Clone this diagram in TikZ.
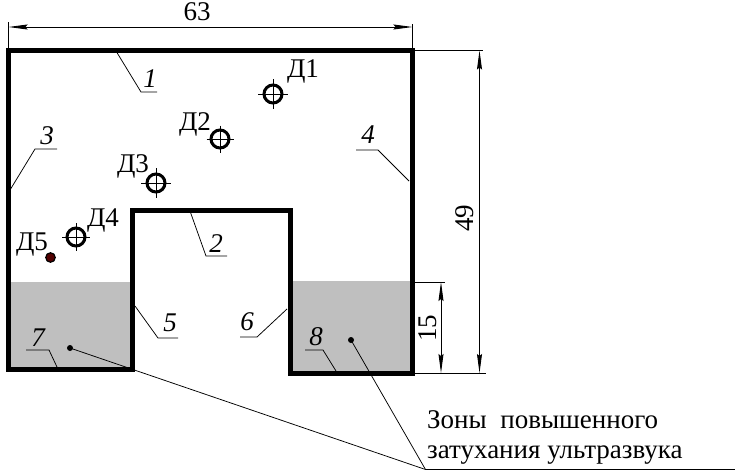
\documentclass[tikz,border=0pt]{standalone}
\usepackage{fontspec}
\setmainfont{Liberation Serif}
\usetikzlibrary{arrows.meta}
\tikzset{
  wall/.style={line width=5pt,line cap=butt,line join=miter},
  zone/.style={fill=black!25,draw=none},
  thin line/.style={line width=0.8pt},
  leader/.style={line width=0.75pt},
  dimtip/.style={Stealth[length=19pt,width=5pt,inset=2pt]},
  dimline/.style={line width=0.9pt,{Stealth[length=19pt,width=5pt,inset=2pt]}-{Stealth[length=19pt,width=5pt,inset=2pt]}},
  dimtext/.style={inner sep=0pt,font=\fontsize{27}{29}\selectfont},
  poslabel/.style={inner sep=0pt,font=\fontsize{27}{29}\selectfont\itshape},
  senslabel/.style={inner sep=0pt,font=\fontsize{27}{29}\selectfont},
  sensor/.style={circle,draw=black,line width=3pt,minimum size=18pt,inner sep=0pt},
  crosshair/.style={line width=0.8pt},
  tipdot/.style={circle,fill=black,minimum size=6pt,inner sep=0pt},
  note/.style={inner sep=0pt,anchor=base west,font=\fontsize{27}{29}\selectfont}
}
\begin{document}
\begin{tikzpicture}[x=1pt,y=-1pt]
\useasboundingbox (0,0) rectangle (735,474);
% zones
\fill[zone] (10.5,282) rectangle (130,367);
\fill[zone] (292.5,281) rectangle (410,371);
% outline
\draw[wall] (8,369) -- (8,50.5) -- (412.5,50.5) -- (412.5,373) -- (290,373) -- (290,210) -- (132,210) -- (132,369) -- cycle;
% named points
\coordinate (topL) at (8.5,50);
\coordinate (topR) at (412.5,50);
\coordinate (e63L) at (8.5,22);
\coordinate (e63R) at (412.5,24);
\coordinate (d63L) at (8.5,27);
\coordinate (d63R) at (412.5,27);
\coordinate (e49T) at (483,50.5);
\coordinate (s49T) at (415,50.5);
\coordinate (d49T) at (479.5,50.5);
\coordinate (d49B) at (479.5,373);
\coordinate (s15T) at (415,282);
\coordinate (e15T) at (445,282);
\coordinate (d15T) at (441,282);
\coordinate (d15B) at (441,373);
\coordinate (s15B) at (415,373);
\coordinate (e15B) at (486,373);
% dimensions
\draw[thin line] (e63L) -- (topL);
\draw[thin line] (e63R) -- (topR);
\draw[dimline] (d63L) -- (d63R);
\node[dimtext] (t63) at (197,12) {63};
\draw[thin line] (s49T) -- (e49T);
\draw[thin line] (s15T) -- (e15T);
\draw[thin line] (s15B) -- (e15B);
\draw[dimline] (d49T) -- (d49B);
\draw[dimline] (d15T) -- (d15B);
\node[dimtext,rotate=90] (t49) at (465,218) {49};
\node[dimtext,rotate=90] (t15) at (428,328) {15};
% position leaders
\node[poslabel] (n1) at (150,79) {1};
\coordinate (a1) at (116,51); \coordinate (b1) at (141,92); \coordinate (c1) at (157,92);
\draw[leader] (a1) -- (b1) -- (c1);
\node[poslabel] (n2) at (216,244) {2};
\coordinate (a2) at (190,211); \coordinate (b2) at (206,256); \coordinate (c2) at (227,256);
\draw[leader] (a2) -- (b2) -- (c2);
\node[poslabel] (n3) at (47,136) {3};
\coordinate (a3) at (10,190); \coordinate (b3) at (35,149); \coordinate (c3) at (57,149);
\draw[leader] (a3) -- (b3) -- (c3);
\node[poslabel] (n4) at (368,135) {4};
\coordinate (a4) at (409,181); \coordinate (b4) at (378,150); \coordinate (c4) at (356,150);
\draw[leader] (a4) -- (b4) -- (c4);
\node[poslabel] (n5) at (170,323) {5};
\coordinate (a5) at (135,306); \coordinate (b5) at (158,338); \coordinate (c5) at (178,338);
\draw[leader] (a5) -- (b5) -- (c5);
\node[poslabel] (n6) at (247,322) {6};
\coordinate (a6) at (287,309); \coordinate (b6) at (257,337); \coordinate (c6) at (240,337);
\draw[leader] (a6) -- (b6) -- (c6);
\node[poslabel] (n7) at (38,338) {7};
\coordinate (a7) at (57,367); \coordinate (b7) at (49,350); \coordinate (c7) at (26,350);
\draw[leader] (a7) -- (b7) -- (c7);
\node[poslabel] (n8) at (316,337) {8};
\coordinate (a8) at (336,371); \coordinate (b8) at (323,350); \coordinate (c8) at (305,350);
\draw[leader] (a8) -- (b8) -- (c8);
% sensors
\foreach \nm/\x/\y/\r in {s1/273/94/15, s2/220/139/13.5, s3/156/183/15, s4/76/237/14}{
  \node[sensor] (\nm) at (\x,\y) {};
  \draw[crosshair] (\x-\r,\y) -- (\x+\r,\y) (\x,\y-\r) -- (\x,\y+\r);
}
\node[circle,fill=black!60!red!80!black,draw=black,line width=1.2pt,minimum size=9.5pt,inner sep=0pt] (s5) at (50.5,257.5) {};
\node[senslabel] (l1) at (303,71) {Д1};
\node[senslabel] (l2) at (195,124) {Д2};
\node[senslabel] (l3) at (133,166) {Д3};
\node[senslabel] (l4) at (103,220) {Д4};
\node[senslabel] (l5) at (32,245) {Д5};
% zone callout
\node[tipdot] (z7) at (70,348) {};
\node[tipdot] (z8) at (351,340) {};
\coordinate (hub) at (425.5,469.5);
\coordinate (shelf) at (735,469.5);
\draw[leader] (z7.center) -- (hub) -- (shelf);
\draw[leader] (z8.center) -- (hub);
\node[note] (note1) at (427,428) {Зоны\hspace{0.25em} повышенного};
\node[note] (note2) at (427,458) {затухания ультразвука};
\end{tikzpicture}
\end{document}
